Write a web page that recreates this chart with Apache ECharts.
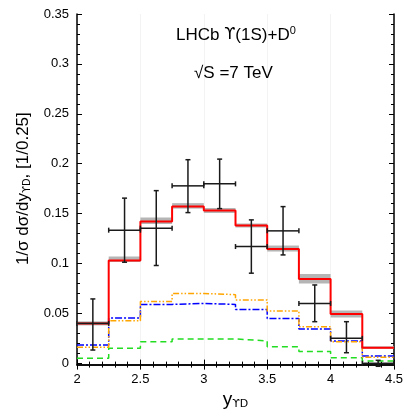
<!DOCTYPE html>
<html>
<head>
<meta charset="utf-8">
<script src="https://cdn.jsdelivr.net/npm/echarts@6/dist/echarts.min.js"></script>
<style>
    html, body {margin: 0; padding: 0; background: #fff;}
    #main {width: 415px; height: 415px;}
</style>
</head>
<body>
<div id="main"></div>
<script>
const FONT = '"Liberation Sans", Arial, sans-serif';
const UPS_FONT = '"DejaVu Sans", "Noto Sans", sans-serif';

// ------------------ data ------------------
const binEdges = [2, 2.25, 2.5, 2.75, 3, 3.25, 3.5, 3.75, 4, 4.25, 4.5];
const theory = [0.040, 0.103, 0.142, 0.157, 0.153, 0.138, 0.1146, 0.0845, 0.0494, 0.0157];
const bandLow = [0.038, 0.1015, 0.1395, 0.155, 0.1505, 0.136, 0.112, 0.080, 0.046, 0.0145];
const bandHigh = [0.042, 0.107, 0.146, 0.1605, 0.1555, 0.140, 0.118, 0.0895, 0.053, 0.017];
const orangeCurve = [0.016, 0.0427, 0.062, 0.070, 0.0688, 0.0635, 0.0525, 0.0367, 0.0217, 0.006];
const blueCurve = [0.0184, 0.0454, 0.059, 0.060, 0.059, 0.054, 0.045, 0.0344, 0.0224, 0.0073];
const greenCurve = [0.005, 0.015, 0.0217, 0.0244, 0.0244, 0.0224, 0.0167, 0.0117, 0.0056, 0.0023];
const lhcbY = [0.040, 0.1334, 0.1354, 0.1778, 0.1798, 0.117, 0.1327, 0.060, 0.025, 0.0];
const lhcbLow = [0.0133, 0.1013, 0.098, 0.151, 0.155, 0.0903, 0.1086, 0.0417, 0.0106, -0.003];
const lhcbHigh = [0.0645, 0.1655, 0.173, 0.204, 0.2046, 0.1437, 0.157, 0.0785, 0.0417, 0.003];
const xTicks = [2, 4.5, 0.5];
const yTicks = [0, 0.35, 0.05];

// step line points: left edge of every bin, then the last right edge
function stepData(vals) {
    let out = [];
    for (let i = 0; i < vals.length; i++) {
        out.push([binEdges[i], vals[i]]);
    }
    out.push([binEdges[vals.length], vals[vals.length - 1]]);
    return out;
}

let bandData = [];
let pointData = [];
for (let i = 0; i < theory.length; i++) {
    bandData.push([binEdges[i], binEdges[i + 1], bandLow[i], bandHigh[i]]);
    pointData.push([binEdges[i], binEdges[i + 1], (binEdges[i] + binEdges[i + 1]) / 2,
        lhcbY[i], lhcbLow[i], lhcbHigh[i]]);
}

let myChart = echarts.init(document.getElementById('main'), null, {renderer: 'canvas'});

const frameLine = {show: true, lineStyle: {color: '#000', width: 1.5}};
const inTick = {show: true, inside: true, length: 5, lineStyle: {color: '#000', width: 1}};
const inMinor = {show: true, splitNumber: 5, length: 3, lineStyle: {color: '#000', width: 1}};

let option = {
    animation: false,
    backgroundColor: '#fff',
    textStyle: {fontFamily: FONT},
    title: [
        {
            text: 'LHCb {ups|ϒ}(1S)+D{sup|0}',
            left: 171, top: 20,
            textStyle: {
                fontFamily: FONT, fontSize: 17, fontWeight: 'normal', color: '#000',
                rich: {
                    ups: {fontFamily: UPS_FONT, fontSize: 16, color: '#000'},
                    sup: {fontFamily: FONT, fontSize: 11, padding: [0, 0, 9, 0], color: '#000'}
                }
            }
        },
        {
            text: '√S =7 TeV',
            left: 189, top: 60,
            textStyle: {fontFamily: FONT, fontSize: 17, fontWeight: 'normal', color: '#000'}
        }
    ],
    grid: [
        {left: 77, right: 21, top: 14, bottom: 47},   // frame
        {left: 77, right: 21, top: 14, bottom: 51.7}  // data
    ],
    xAxis: [
        {
            type: 'value', gridIndex: 0, position: 'bottom',
            min: xTicks[0], max: xTicks[1], interval: xTicks[2],
            axisLine: frameLine, axisTick: inTick, minorTick: inMinor,
            axisLabel: {color: '#000', fontSize: 13, fontFamily: FONT, margin: 8},
            splitLine: {show: true, lineStyle: {color: '#f3f3f3', width: 1}},
            name: 'y{sub|ϒD}', nameLocation: 'middle', nameGap: 20,
            nameTextStyle: {
                color: '#000', fontSize: 19, fontFamily: FONT, verticalAlign: 'top',
                rich: {sub: {fontFamily: UPS_FONT, fontSize: 11, color: '#000', padding: [9, 0, 0, 0]}}
            }
        },
        {
            type: 'value', gridIndex: 0, position: 'top',
            min: xTicks[0], max: xTicks[1], interval: xTicks[2],
            axisLine: frameLine, axisTick: inTick, minorTick: inMinor,
            axisLabel: {show: false}, splitLine: {show: false}
        },
        {
            type: 'value', gridIndex: 1, show: false,
            min: xTicks[0], max: xTicks[1], interval: xTicks[2],
            splitLine: {show: false}
        }
    ],
    yAxis: [
        {
            type: 'value', gridIndex: 0, position: 'left', min: 0, max: 1,
            axisLine: frameLine, axisTick: {show: false}, axisLabel: {show: false}, splitLine: {show: false}
        },
        {
            type: 'value', gridIndex: 0, position: 'right', min: 0, max: 1,
            axisLine: frameLine, axisTick: {show: false}, axisLabel: {show: false}, splitLine: {show: false}
        },
        {
            type: 'value', gridIndex: 1, position: 'left',
            min: yTicks[0], max: yTicks[1], interval: yTicks[2],
            axisLine: {show: false}, axisTick: inTick, minorTick: inMinor,
            axisLabel: {color: '#000', fontSize: 13, fontFamily: FONT, margin: 8},
            splitLine: {show: false},
            name: '1/σ dσ/dy{sub|ϒD}, [1/0.25]', nameLocation: 'middle', nameGap: 45,
            nameTextStyle: {
                color: '#000', fontSize: 17, fontFamily: FONT,
                rich: {sub: {fontFamily: UPS_FONT, fontSize: 10, color: '#000', padding: [8, 0, 0, 0]}}
            }
        },
        {
            type: 'value', gridIndex: 1, position: 'right',
            min: yTicks[0], max: yTicks[1], interval: yTicks[2],
            axisLine: {show: false}, axisTick: inTick, minorTick: inMinor,
            axisLabel: {show: false}, splitLine: {show: false}
        }
    ],
    series: [
        {
            // uncertainty band of the prediction
            type: 'custom', xAxisIndex: 2, yAxisIndex: 2, data: bandData,
            renderItem: function (params, api) {
                let p0 = api.coord([api.value(0), api.value(3)]);
                let p1 = api.coord([api.value(1), api.value(2)]);
                return {
                    type: 'rect',
                    shape: {x: p0[0], y: p0[1], width: p1[0] - p0[0], height: p1[1] - p0[1]},
                    style: {fill: '#b5b5b5'}
                };
            },
            z: 1
        },
        {
            type: 'line', xAxisIndex: 2, yAxisIndex: 2, step: 'end', symbol: 'none',
            data: stepData(greenCurve),
            lineStyle: {color: '#22dd22', width: 1.5, type: [6, 4]}, z: 2
        },
        {
            type: 'line', xAxisIndex: 2, yAxisIndex: 2, step: 'end', symbol: 'none',
            data: stepData(blueCurve),
            lineStyle: {color: '#0000ff', width: 1.5, type: [7, 2, 2, 2]}, z: 3
        },
        {
            type: 'line', xAxisIndex: 2, yAxisIndex: 2, step: 'end', symbol: 'none',
            data: stepData(orangeCurve),
            lineStyle: {color: '#ffa500', width: 1.5, type: [6, 2, 1.5, 2, 1.5, 2]}, z: 3
        },
        {
            type: 'line', xAxisIndex: 2, yAxisIndex: 2, step: 'end', symbol: 'none',
            data: stepData(theory),
            lineStyle: {color: '#ff0000', width: 2}, z: 4
        },
        {
            // LHCb points with error bars
            type: 'custom', xAxisIndex: 2, yAxisIndex: 2, data: pointData, clip: false,
            renderItem: function (params, api) {
                let left = api.coord([api.value(0), api.value(3)]);
                let right = api.coord([api.value(1), api.value(3)]);
                let top = api.coord([api.value(2), api.value(5)]);
                let bot = api.coord([api.value(2), api.value(4)]);
                let c = 2.5;
                let st = {stroke: '#1a1a1a', lineWidth: 1.5};
                function seg(x1, y1, x2, y2) {
                    return {type: 'line', shape: {x1: x1, y1: y1, x2: x2, y2: y2}, style: st};
                }
                return {
                    type: 'group',
                    children: [
                        seg(left[0], left[1], right[0], right[1]),
                        seg(left[0], left[1] - c, left[0], left[1] + c),
                        seg(right[0], right[1] - c, right[0], right[1] + c),
                        seg(top[0], top[1], bot[0], bot[1]),
                        seg(top[0] - c, top[1], top[0] + c, top[1]),
                        seg(bot[0] - c, bot[1], bot[0] + c, bot[1])
                    ]
                };
            },
            z: 6
        }
    ]
};

if (option && typeof option === "object") {
    myChart.setOption(option, true);
}
</script>
</body>
</html>
